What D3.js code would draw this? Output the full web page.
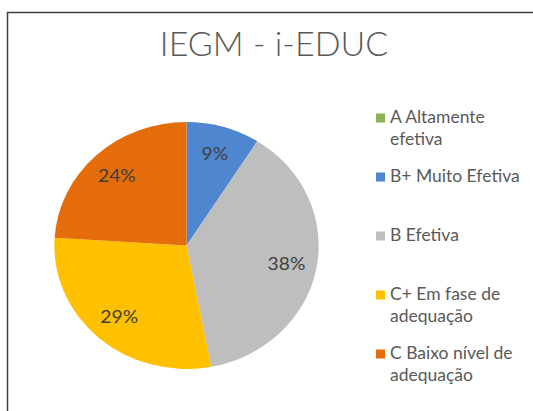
<!DOCTYPE html>
<html>
<head>
<meta charset="utf-8">
<script src="https://cdn.jsdelivr.net/npm/d3@7"></script>
<style>
  body { margin: 0; background: #fff; }
  text { font-family: Lato, "Open Sans", sans-serif; }
</style>
</head>
<body>
<script>
const TITLE = 'IEGM - i-EDUC';
const categories = ['A Altamente efetiva', 'B+ Muito Efetiva', 'B Efetiva', 'C+ Em fase de adequação', 'C Baixo nível de adequação'];
const legendLines = [['A Altamente', 'efetiva'], ['B+ Muito Efetiva'], ['B Efetiva'], ['C+ Em fase de', 'adequação'], ['C Baixo nível de', 'adequação']];
const values = [0, 9, 38, 29, 24];
const colors = ['#8db255', '#4e86d0', '#bebebe', '#ffc000', '#e46c0a'];

const width = 533;
const height = 411;

const svg = d3.select('body').append('svg')
    .attr('width', width)
    .attr('height', height);

// chart frame (right and bottom edges fall outside the picture)
svg.append('rect')
    .attr('x', 7.5)
    .attr('y', 12.5)
    .attr('width', 600)
    .attr('height', 500)
    .attr('fill', '#fff')
    .attr('stroke', '#3f3f3f')
    .attr('stroke-width', 1.5);

svg.append('text')
    .attr('x', 274)
    .attr('y', 56)
    .attr('text-anchor', 'middle')
    .attr('font-size', 34)
    .attr('font-weight', 300)
    .attr('fill', '#595959')
    .text(TITLE);

const color = d3.scaleOrdinal(categories, colors);

const data = categories.map((c, i) => ({ name: c, value: values[i] }));
const pie = d3.pie().value(d => d.value).sort(null);
const ry = 123.5;
const arc = d3.arc().innerRadius(0).outerRadius(ry);
const labelArc = d3.arc().innerRadius(ry * 0.77).outerRadius(ry * 0.77);

// the original pie is slightly wider than tall
const g = svg.append('g')
    .attr('transform', 'translate(186.5,245.5) scale(1.07,1)');

const slices = pie(data).filter(d => d.data.value > 0);

g.selectAll('path')
    .data(slices)
    .enter()
    .append('path')
    .attr('d', arc)
    .attr('fill', d => color(d.data.name));

g.selectAll('text')
    .data(slices)
    .enter()
    .append('text')
    .attr('transform', d => `translate(${labelArc.centroid(d)})`)
    .attr('text-anchor', 'middle')
    .attr('dy', '0.35em')
    .attr('font-size', 18)
    .attr('fill', '#404040')
    .text(d => d.data.value + '%');

// legend
const ly = d3.scalePoint().domain(categories).range([117, 353]);

const item = svg.selectAll('.legend')
    .data(categories)
    .enter()
    .append('g')
    .attr('class', 'legend')
    .attr('transform', d => `translate(376,${ly(d)})`);

item.append('rect')
    .attr('y', -3.5)
    .attr('width', 9)
    .attr('height', 9)
    .attr('fill', d => color(d));

item.append('text')
    .attr('font-size', 17.5)
    .attr('fill', '#595959')
    .selectAll('tspan')
    .data((d, i) => legendLines[i])
    .enter()
    .append('tspan')
    .attr('x', 14)
    .attr('y', (d, i) => i * 22)
    .attr('dy', '0.35em')
    .text(d => d);
</script>
</body>
</html>
